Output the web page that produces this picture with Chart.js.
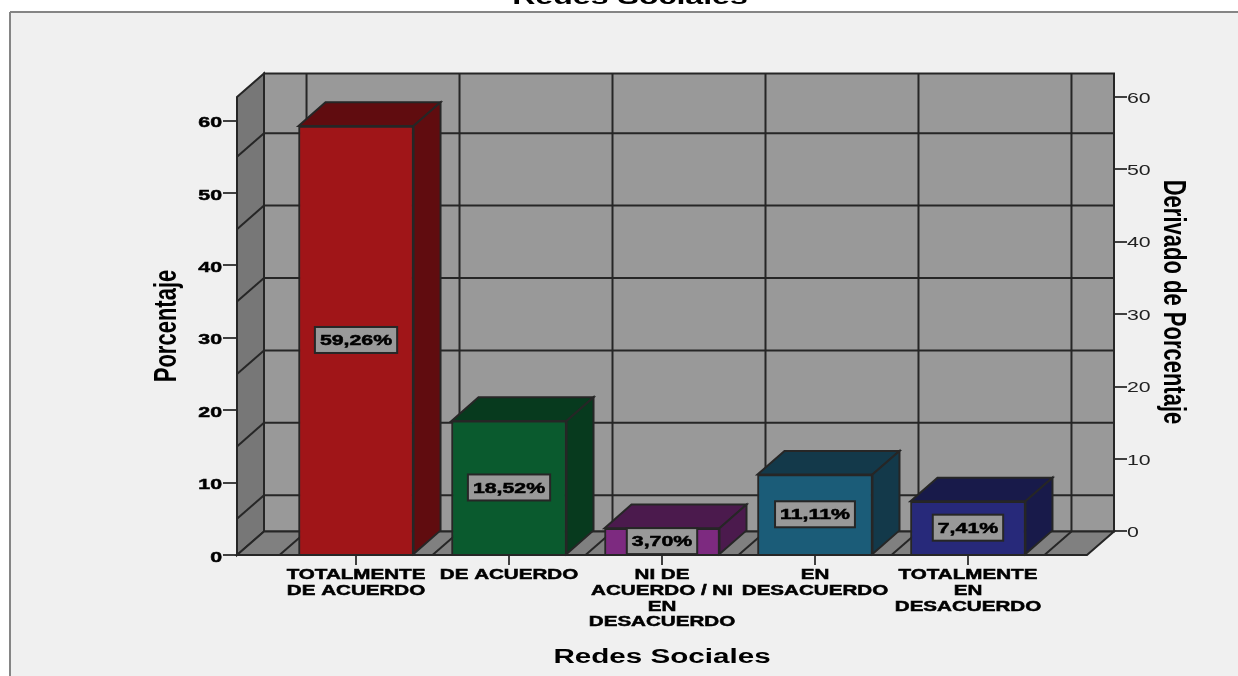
<!DOCTYPE html>
<html>
<head>
<meta charset="utf-8">
<title>Redes Sociales</title>
<script src="https://cdn.jsdelivr.net/npm/chart.js@4/dist/chart.umd.js"></script>
<style>
    html, body { margin: 0; padding: 0; background: #fff; overflow: hidden; }
    #wrap { position: relative; width: 1238px; height: 676px; }
</style>
</head>
<body>
<div id="wrap"><canvas id="myChart" width="1238" height="676"></canvas></div>
<script>
const categories = [
    ['TOTALMENTE', 'DE ACUERDO'],
    ['DE ACUERDO'],
    ['NI DE', 'ACUERDO / NI', 'EN', 'DESACUERDO'],
    ['EN', 'DESACUERDO'],
    ['TOTALMENTE', 'EN', 'DESACUERDO']
]
const values = [59.26, 18.52, 3.70, 11.11, 7.41]
const valueLabels = ['59,26%', '18,52%', '3,70%', '11,11%', '7,41%']
const frontColors = ['#a01518', '#0a5a2e', '#7d2a80', '#1b5c78', '#27297a']
const sideColors = ['#600c0f', '#073a1e', '#4b1a4d', '#13394a', '#181a4a']
const wallLines = [5, 15, 25, 35, 45, 55]
const chartTitle = 'Redes Sociales'
const xTitle = 'Redes Sociales'
const yTitle = 'Porcentaje'
const y2Title = 'Derivado de Porcentaje'

const FONT = "'Liberation Sans', Arial, sans-serif"
const LINE = '#262626'
const DEPTH_X = 27
const WIDE = 1.42

// the source image is stretched sideways, so tick labels and titles get scaled too
const stretchScale = function (scale, titleWide, titleDy, labelDy) {
    if (scale._stretched) return
    scale._stretched = true
    const ctx = scale.ctx
    const getItems = scale.getLabelItems
    const drawLabels = scale.drawLabels
    const drawTitle = scale.drawTitle

    // the label clip box would be scaled as well
    scale._computeLabelArea = function () {}
    scale.getLabelItems = function (area) {
        return getItems.call(scale, area).map(function (item) {
            const t = item.options.translation
            return { ...item, options: { ...item.options, translation: [t[0] / WIDE, t[1] + labelDy] } }
        })
    }
    scale.drawLabels = function (area) {
        ctx.save()
        ctx.scale(WIDE, 1)
        drawLabels.call(scale, area)
        ctx.restore()
    }
    scale.drawTitle = function () {
        const o = scale.options.title
        let cx = (scale.left + scale.right) / 2
        if (scale.axis === 'y') {
            const half = o.font.size * 0.6
            cx = scale.options.position === 'left' ? scale.left + half + o.padding.top : scale.right - half - o.padding.top
        }
        ctx.save()
        ctx.translate(cx, titleDy)
        ctx.scale(titleWide, 1)
        ctx.translate(-cx, 0)
        drawTitle.call(scale)
        ctx.restore()
    }
}

const polygon = function (ctx, points, fill) {
    ctx.beginPath()
    points.forEach(function (p, i) {
        if (i === 0) ctx.moveTo(p[0], p[1])
        else ctx.lineTo(p[0], p[1])
    })
    ctx.closePath()
    ctx.fillStyle = fill
    ctx.fill()
    ctx.stroke()
}

const segment = function (ctx, x1, y1, x2, y2) {
    ctx.beginPath()
    ctx.moveTo(x1, y1)
    ctx.lineTo(x2, y2)
    ctx.stroke()
}

const box3d = {
    id: 'box3d',
    beforeDraw(chart) {
        const ctx = chart.ctx
        ctx.save()
        ctx.fillStyle = '#f0f0f0'
        ctx.fillRect(10, 12, 1228, 664)
        ctx.strokeStyle = '#858585'
        ctx.lineWidth = 2
        segment(ctx, 10, 12, 1238, 12)
        segment(ctx, 10, 12, 10, 676)

        // chart heading, cut by the top of the picture in the reference
        ctx.translate(630, 0)
        ctx.scale(1.46, 1)
        ctx.fillStyle = '#000'
        ctx.font = 'bold 22px ' + FONT
        ctx.textAlign = 'center'
        ctx.textBaseline = 'alphabetic'
        ctx.fillText(chartTitle, 0, 4)
        ctx.restore()

        stretchScale(chart.scales.x, 1.48, 0, 1.5)
        stretchScale(chart.scales.y, 1.4, 0, 2.5)
        stretchScale(chart.scales.y2, 1.4, -24, 1.5)
    },
    beforeDatasetsDraw(chart) {
        const ctx = chart.ctx
        const { left, right, top, bottom } = chart.chartArea
        const { x, y, y2 } = chart.scales
        const backBottom = y2.getPixelForValue(0)
        const dy = bottom - backBottom

        ctx.save()
        ctx.strokeStyle = LINE
        ctx.lineWidth = 2
        ctx.lineJoin = 'miter'
        polygon(ctx, [[left + DEPTH_X, top - dy], [right + DEPTH_X, top - dy], [right + DEPTH_X, backBottom], [left + DEPTH_X, backBottom]], '#999999')
        polygon(ctx, [[left, top], [left + DEPTH_X, top - dy], [left + DEPTH_X, backBottom], [left, bottom]], '#777777')
        polygon(ctx, [[left, bottom], [left + DEPTH_X, backBottom], [right + DEPTH_X, backBottom], [right, bottom]], '#808080')

        wallLines.forEach(function (v) {
            const py = y2.getPixelForValue(v)
            segment(ctx, left + DEPTH_X, py, right + DEPTH_X, py)
            segment(ctx, left, y.getPixelForValue(v), left + DEPTH_X, py)
        })
        // band edges between the categories, across floor and back wall
        for (let i = 0; i <= categories.length; i++) {
            const px = x.getPixelForValue(i - 0.5)
            segment(ctx, px, bottom, px + DEPTH_X, backBottom)
            segment(ctx, px + DEPTH_X, backBottom, px + DEPTH_X, top - dy)
        }
        ctx.restore()
    },
    afterDatasetsDraw(chart) {
        const ctx = chart.ctx
        const dy = chart.chartArea.bottom - chart.scales.y2.getPixelForValue(0)
        const bars = chart.getDatasetMeta(0).data

        ctx.save()
        ctx.strokeStyle = LINE
        ctx.lineWidth = 2
        bars.forEach(function (bar, i) {
            const l = bar.x - bar.width / 2
            const r = bar.x + bar.width / 2
            polygon(ctx, [[l, bar.y], [l + DEPTH_X, bar.y - dy], [r + DEPTH_X, bar.y - dy], [r, bar.y]], sideColors[i])
            polygon(ctx, [[r, bar.y], [r + DEPTH_X, bar.y - dy], [r + DEPTH_X, bar.base - dy], [r, bar.base]], sideColors[i])
        })

        ctx.font = 'bold 15px ' + FONT
        ctx.textAlign = 'center'
        ctx.textBaseline = 'middle'
        bars.forEach(function (bar, i) {
            const cx = bar.x
            const cy = (bar.y + bar.base) / 2
            const w = ctx.measureText(valueLabels[i]).width * WIDE + 10
            const h = 26
            ctx.fillStyle = '#999999'
            ctx.fillRect(cx - w / 2, cy - h / 2, w, h)
            ctx.lineWidth = 2
            ctx.strokeRect(cx - w / 2, cy - h / 2, w, h)
            ctx.save()
            ctx.translate(cx, cy + 1)
            ctx.scale(WIDE, 1)
            ctx.fillStyle = '#000'
            ctx.strokeStyle = '#000'
            ctx.lineWidth = 0.5
            ctx.fillText(valueLabels[i], 0, 0)
            ctx.strokeText(valueLabels[i], 0, 0)
            ctx.restore()
        })
        ctx.restore()
    },
    afterDraw(chart) {
        // the base line stays on top of the bar borders
        const ctx = chart.ctx
        const { left, right, bottom } = chart.chartArea
        ctx.save()
        ctx.strokeStyle = LINE
        ctx.lineWidth = 2
        segment(ctx, left, bottom, right, bottom)
        ctx.restore()
    }
}

const fixSize = function (width, height) {
    return function (scale) {
        if (width) scale.width = width
        if (height) scale.height = height
    }
}

new Chart(document.getElementById('myChart').getContext('2d'), {
    type: 'bar',
    data: {
        datasets: [{
            data: values.map((v, i) => ({ x: i, y: v })),
            yAxisID: 'y',
            backgroundColor: frontColors,
            borderColor: LINE,
            borderWidth: 2,
            barThickness: 115
        }]
    },
    options: {
        responsive: false,
        animation: false,
        layout: { autoPadding: false, padding: { top: 97, left: 0, right: 0, bottom: 0 } },
        plugins: { legend: { display: false }, tooltip: { enabled: false } },
        scales: {
            x: {
                type: 'linear',
                offset: false,
                min: -0.778,
                max: 4.778,
                afterFit: fixSize(null, 121),
                afterBuildTicks: function (scale) {
                    scale.ticks = categories.map((c, i) => ({ value: i }))
                },
                border: { display: false },
                grid: { drawOnChartArea: false, offset: false, color: '#404040', lineWidth: 2, tickLength: 10 },
                ticks: {
                    autoSkip: false,
                    maxRotation: 0,
                    padding: 1,
                    color: '#000',
                    textStrokeColor: '#000',
                    textStrokeWidth: 0.5,
                    font: { family: FONT, size: 14.5, weight: 'bold', lineHeight: 1.08 },
                    callback: value => categories[value]
                },
                title: {
                    display: true,
                    text: xTitle,
                    color: '#000',
                    font: { family: FONT, size: 20, weight: 'bold' },
                    padding: { top: 0, bottom: 7 }
                }
            },
            y: {
                position: 'left',
                min: 0,
                max: 63.26,
                afterFit: fixSize(237),
                border: { display: false },
                grid: { drawOnChartArea: false, color: '#404040', lineWidth: 2, tickLength: 14 },
                ticks: {
                    stepSize: 10,
                    includeBounds: false,
                    padding: 1,
                    color: '#000',
                    textStrokeColor: '#000',
                    textStrokeWidth: 0.5,
                    font: { family: FONT, size: 15, weight: 'bold' }
                },
                title: {
                    display: true,
                    text: yTitle,
                    color: '#000',
                    font: { family: FONT, size: 22, weight: 'bold' },
                    padding: { top: 154, bottom: 0 }
                }
            },
            y2: {
                position: 'right',
                min: -3.26,
                max: 60,
                afterFit: fixSize(151),
                border: { display: false },
                grid: { drawOnChartArea: false, color: '#404040', lineWidth: 2, tickLength: 40 },
                ticks: {
                    stepSize: 10,
                    includeBounds: false,
                    padding: 0,
                    color: '#222',
                    font: { family: FONT, size: 15 }
                },
                title: {
                    display: true,
                    text: y2Title,
                    color: '#000',
                    font: { family: FONT, size: 22, weight: 'bold' },
                    padding: { top: 52, bottom: 0 }
                }
            }
        }
    },
    plugins: [box3d]
})
</script>
</body>
</html>
